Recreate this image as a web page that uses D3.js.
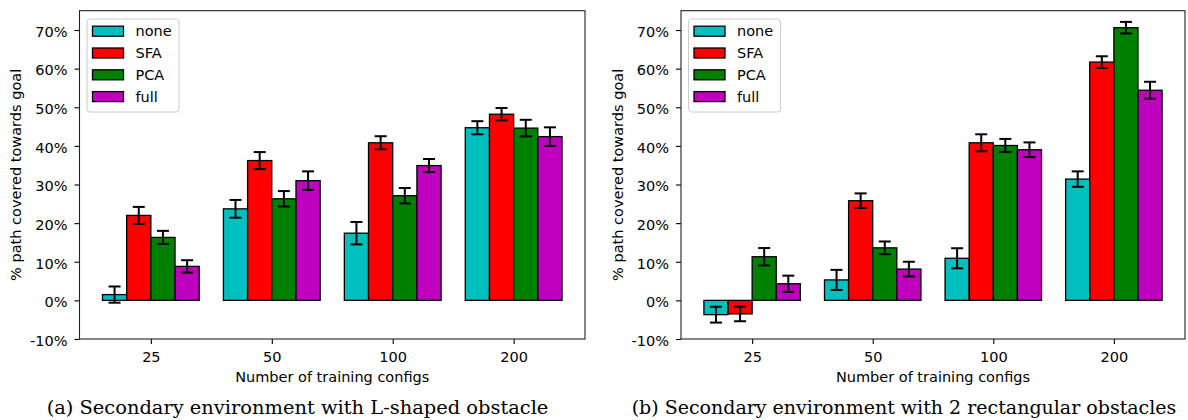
<!DOCTYPE html>
<html>
<head>
<meta charset="utf-8">
<script src="https://cdn.jsdelivr.net/npm/d3@7"></script>
<style>
body{margin:0;background:#fff;}
svg text{font-family:"DejaVu Sans",sans-serif;}
.cap{font-family:"DejaVu Serif",serif;}
</style>
</head>
<body>
<div id="chart"></div>
<script>
// tick labels / categories
var groups = ["25", "50", "100", "200"];
var series = ["none", "SFA", "PCA", "full"];
var colors = ["#00bfbf", "#ff0000", "#008000", "#bf00bf"];
var yTicks = [-10, 0, 10, 20, 30, 40, 50, 60, 70];

// (a) L-shaped obstacle, values in % (one array per series, order = groups)
var aNone = [1.5, 23.7, 17.4, 44.7];
var aSFA  = [22.0, 36.2, 40.8, 48.2];
var aPCA  = [16.3, 26.3, 27.1, 44.6];
var aFull = [8.8, 31.0, 34.9, 42.4];
var aNoneErr = [2.1, 2.3, 2.9, 1.7];
var aSFAErr  = [2.2, 2.2, 1.7, 1.6];
var aPCAErr  = [1.7, 2.0, 2.0, 2.15];
var aFullErr = [1.6, 2.4, 1.7, 2.4];

// (b) 2 rectangular obstacles
var bNone = [-3.7, 5.3, 10.9, 31.4];
var bSFA  = [-3.5, 25.8, 40.8, 61.7];
var bPCA  = [11.3, 13.6, 40.1, 70.6];
var bFull = [4.3, 8.1, 39.0, 54.4];
var bNoneErr = [2.05, 2.6, 2.6, 2.0];
var bSFAErr  = [1.9, 1.9, 2.2, 1.5];
var bPCAErr  = [2.25, 1.65, 1.7, 1.5];
var bFullErr = [2.1, 1.9, 1.9, 2.2];

var W = 1188, H = 420;
var svg = d3.select("#chart").append("svg").attr("width", W).attr("height", H);

var drawPanel = function(opts){
	var vals = opts.values, errs = opts.errors;
	var x = d3.scaleLinear().domain([-0.59, 3.59]).range([opts.left, opts.right]);
	var y = d3.scaleLinear().domain([-10, 75]).range([opts.bottom, opts.top]);
	var barW = 0.2;
	var g = svg.append("g");

	// bars
	for (var s = 0; s < series.length; s++){
		var bars = g.append("g");
		bars.selectAll("rect").data(vals[s]).enter().append("rect")
			.attr("x", function(d, i){return x(i + (s - 2) * barW);})
			.attr("width", x(barW) - x(0))
			.attr("y", function(d){return Math.min(y(d), y(0));})
			.attr("height", function(d){return Math.abs(y(d) - y(0));})
			.style("fill", colors[s])
			.style("stroke", "#000")
			.style("stroke-width", 1.3);
	}
	// error bars
	for (var s = 0; s < series.length; s++){
		for (var i = 0; i < groups.length; i++){
			var cx = x(i + (s - 1.5) * barW);
			var lo = y(vals[s][i] - errs[s][i]), hi = y(vals[s][i] + errs[s][i]);
			g.append("line").attr("x1", cx).attr("x2", cx).attr("y1", lo).attr("y2", hi)
				.style("stroke", "#000").style("stroke-width", 2);
			[lo, hi].forEach(function(yy){
				g.append("line").attr("x1", cx - 6).attr("x2", cx + 6).attr("y1", yy).attr("y2", yy)
					.style("stroke", "#000").style("stroke-width", 2);
			});
		}
	}

	// axes
	var xAxis = d3.axisBottom(x).tickValues([0, 1, 2, 3])
		.tickFormat(function(d){return groups[d];}).tickSize(5).tickPadding(8);
	var yAxis = d3.axisLeft(y).tickValues(yTicks)
		.tickFormat(function(d){return d + "%";}).tickSize(5).tickPadding(7);
	var gx = g.append("g").attr("transform", "translate(0," + opts.bottom + ")").call(xAxis);
	var gy = g.append("g").attr("transform", "translate(" + opts.left + ",0)").call(yAxis);
	gy.selectAll("text").attr("dy", "0.43em");
	[gx, gy].forEach(function(ax){
		ax.select(".domain").remove();
		ax.selectAll("line").style("stroke", "#000").style("stroke-width", 1.1);
		ax.selectAll("text").style("font-size", "14.5px").style("fill", "#000")
			.style("font-family", "DejaVu Sans");
	});

	// frame
	g.append("rect").attr("x", opts.left).attr("y", opts.top)
		.attr("width", opts.right - opts.left).attr("height", opts.bottom - opts.top)
		.style("fill", "none").style("stroke", "#222").style("stroke-width", 1.1);

	// axis labels
	g.append("text").attr("x", (opts.left + opts.right) / 2).attr("y", 381.5)
		.attr("text-anchor", "middle").style("font-size", "14.5px")
		.text("Number of training configs");
	g.append("text")
		.attr("transform", "translate(" + opts.ylabelX + "," + (opts.top + opts.bottom) / 2 + ") rotate(-90)")
		.attr("text-anchor", "middle").attr("dy", "0.35em").style("font-size", "14.5px")
		.text("% path covered towards goal");

	// legend
	var lx = opts.left + 7.5, ly = 19;
	g.append("rect").attr("x", lx).attr("y", ly).attr("width", 92).attr("height", 93)
		.attr("rx", 3).style("fill", "#fff").style("fill-opacity", 0.8)
		.style("stroke", "#ccc").style("stroke-width", 1);
	var items = g.selectAll("g.leg").data(series).enter().append("g").attr("class", "leg")
		.attr("transform", function(d, i){return "translate(" + (lx + 5.5) + "," + (31.2 + i * 21.8) + ")";});
	items.append("rect").attr("x", 0).attr("y", -5).attr("width", 31).attr("height", 10)
		.style("fill", function(d, i){return colors[i];})
		.style("stroke", "#000").style("stroke-width", 1.3);
	items.append("text").attr("x", 43).attr("dy", "0.36em").style("font-size", "14.5px")
		.text(function(d){return d;});

	// caption, sized to the measured width
	var cap = svg.append("text").attr("class", "cap")
		.attr("x", opts.capX).attr("y", 414).attr("text-anchor", "middle")
		.style("font-size", "17px").text(opts.caption);
	var len = cap.node().getComputedTextLength();
	if (len > 0) cap.style("font-size", (17 * opts.capW / len).toFixed(2) + "px");
};

drawPanel({
	left: 79.5, right: 585, top: 10.7, bottom: 339, ylabelX: 15.5,
	values: [aNone, aSFA, aPCA, aFull], errors: [aNoneErr, aSFAErr, aPCAErr, aFullErr],
	caption: "(a) Secondary environment with L-shaped obstacle", capX: 297.5, capW: 502
});
drawPanel({
	left: 681, right: 1185, top: 10.7, bottom: 339, ylabelX: 617.5,
	values: [bNone, bSFA, bPCA, bFull], errors: [bNoneErr, bSFAErr, bPCAErr, bFullErr],
	caption: "(b) Secondary environment with 2 rectangular obstacles", capX: 904, capW: 545
});
</script>
</body>
</html>
